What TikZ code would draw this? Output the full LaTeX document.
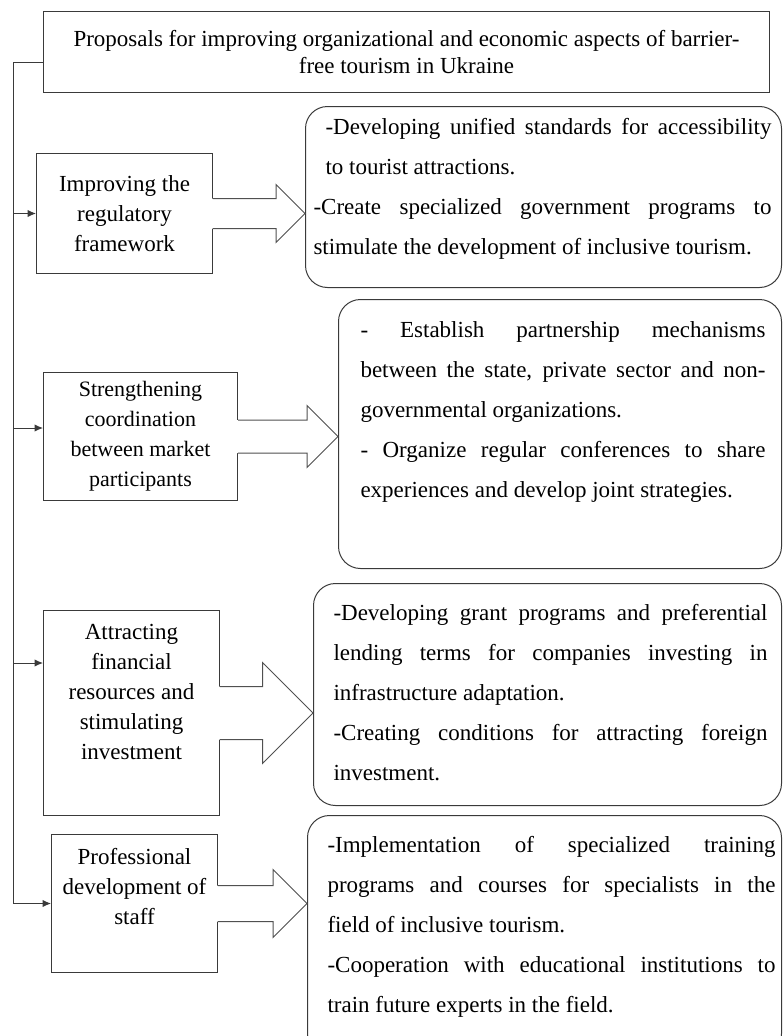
\documentclass[tikz,border=0pt]{standalone}
\usepackage{fontspec}
\setmainfont{Liberation Serif}
\usepackage{xcolor}
\usetikzlibrary{calc,arrows.meta}
\definecolor{linegray}{HTML}{3A3A3A}
\definecolor{arrowgray}{HTML}{505050}
\tikzstyle{titlebox} =[
    draw=linegray,
    line width=1pt,
    rectangle,
    inner sep=0pt,
    anchor=north west
    ]
\tikzstyle{causebox} =[
    draw=linegray,
    line width=1pt,
    rectangle,
    inner sep=0pt,
    anchor=north west
    ]
\tikzstyle{measurebox} =[
    draw=linegray,
    line width=1pt,
    rectangle,
    rounded corners=22pt,
    inner sep=0pt,
    anchor=north west
    ]
\tikzstyle{spineline} =[
    draw=linegray,
    line width=1pt
    ]
\tikzstyle{branch} =[
    spineline,
    -{Latex[length=8.5pt,width=7.5pt]}
    ]
\tikzstyle{blockline} =[
    draw=arrowgray,
    line width=1pt
    ]
\newcommand{\blockarrow}[4]{% from, to, half shaft, half head
\fill[white] let \p1=(#1.east), \p2=(#2.west) in
    (\x1-1,\y1+#3) -- (\x2-#4,\y1+#3) -- (\x2-#4,\y1+#4) -- (\x2,\y1)
    -- (\x2-#4,\y1-#4) -- (\x2-#4,\y1-#3) -- (\x1-1,\y1-#3) -- cycle;
\draw[blockline] let \p1=(#1.east), \p2=(#2.west) in
    (\x1,\y1+#3) -- (\x2-#4,\y1+#3) -- (\x2-#4,\y1+#4) -- (\x2,\y1)
    -- (\x2-#4,\y1-#4) -- (\x2-#4,\y1-#3) -- (\x1,\y1-#3);
}
\newcommand{\causefont}{\fontsize{23}{30}\selectfont}
\newcommand{\measurefont}{\fontsize{23}{40}\selectfont\tolerance=10000\hbadness=10000}

\begin{document}
\begin{tikzpicture}[x=1pt,y=-1pt]
\useasboundingbox (0,0) rectangle (783,1036);

\node[titlebox] (title) at (43,11) {%
    \parbox[c][81pt][c]{726pt}{\centering\fontsize{23}{27}\selectfont
    Proposals for improving organizational and economic aspects of barrier-\\
    free tourism in Ukraine}};

% directions
\node[causebox] (regulatory) at (36,153) {%
    \parbox[c][120pt][c]{176pt}{\centering\causefont
    Improving the\\ regulatory\\ framework}};
\node[causebox] (coordination) at (43,372) {%
    \parbox[c][128pt][c]{194pt}{\centering\fontsize{22}{30}\selectfont
    Strengthening\\ coordination\\ between market\\ participants}};
\node[causebox] (finance) at (43,610) {%
    \parbox[c][205pt][t]{176pt}{\centering\causefont\vspace*{14pt}
    Attracting\\ financial\\ resources and\\ stimulating\\ investment}};
\node[causebox] (staff) at (51,834) {%
    \parbox[c][138pt][t]{166pt}{\centering\causefont\vspace*{14pt}
    Professional\\ development of\\ staff}};

% measures
\node[measurebox] (regulatorytxt) at (305,106) {%
    \parbox[c][181pt][t]{476pt}{\measurefont\rightskip=10pt\vspace*{12pt}
    {\leftskip=20pt -Developing unified standards for accessibility\linebreak
    to tourist attractions.\par}
    {\leftskip=8pt -Create specialized government programs to\linebreak
    stimulate the development of inclusive tourism.\par}}};
\node[measurebox] (coordinationtxt) at (338,299) {%
    \parbox[c][269pt][t]{443pt}{\measurefont\leftskip=22pt\rightskip=16pt\vspace*{22pt}
    - Establish partnership mechanisms\linebreak
    between the state, private sector and non-\linebreak
    governmental organizations.\par
    - Organize regular conferences to share\linebreak
    experiences and develop joint strategies.\par}};
\node[measurebox] (financetxt) at (313,583) {%
    \parbox[c][222pt][t]{468pt}{\measurefont\leftskip=20pt\rightskip=14pt\vspace*{21pt}
    -Developing grant programs and preferential\linebreak
    lending terms for companies investing in\linebreak
    infrastructure adaptation.\par
    -Creating conditions for attracting foreign\linebreak
    investment.\par}};
\node[measurebox] (stafftxt) at (307,815) {%
    \parbox[c][240pt][t]{474pt}{\measurefont\leftskip=20pt\rightskip=6pt\vspace*{21pt}
    -Implementation of specialized training\linebreak
    programs and courses for specialists in the\linebreak
    field of inclusive tourism.\par
    -Cooperation with educational institutions to\linebreak
    train future experts in the field.\par}};

% spine
\coordinate (spine) at (13,62);
\coordinate (coordhook) at (13,428);
\coordinate (financehook) at (13,663);
\draw[spineline] (title.west |- spine) -- (spine) -- (spine |- staff.west);
\draw[branch] (spine |- regulatory.west) -- (regulatory.west);
\draw[branch] (coordhook) -- (coordhook -| coordination.west);
\draw[branch] (financehook) -- (financehook -| finance.west);
\draw[branch] (spine |- staff.west) -- (staff.west);

% block arrows
\blockarrow{regulatory}{regulatorytxt}{15}{29}
\blockarrow{coordination}{coordinationtxt}{16.5}{31}
\blockarrow{finance}{financetxt}{26.5}{50.5}
\blockarrow{staff}{stafftxt}{18}{34}
\end{tikzpicture}
\end{document}
